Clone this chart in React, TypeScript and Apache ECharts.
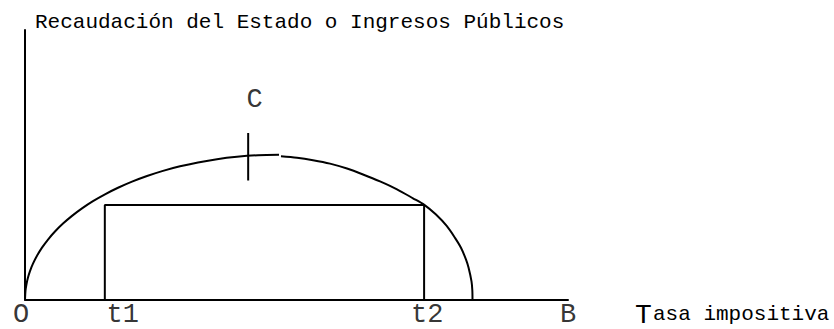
import { useEffect, useRef } from "react";
import * as echarts from "echarts";

// ---- data ----
const yTitle = "Recaudación del Estado o Ingresos Públicos";
const xTitleFirst = "T";
const xTitleRest = "asa impositiva";

const tickLabels = ["O", "t1", "t2", "B"];
const tickValues = [0, 14.7, 73.5, 100];

const leftCurveX = [0, 0.09, 0.28, 0.55, 0.92, 1.47, 2.21, 3.13, 4.24, 5.52, 7.0, 8.66, 10.5, 12.52, 14.73, 17.13, 19.71, 22.47, 25.41, 28.55, 31.86, 35.36, 39.04, 42.91, 46.78];
const leftCurveY = [0, 3.38, 5.83, 8.22, 10.61, 13.36, 16.29, 19.3, 22.31, 25.28, 28.22, 31.08, 33.87, 36.55, 39.08, 41.5, 43.78, 45.87, 47.78, 49.47, 50.9, 52.11, 52.99, 53.58, 53.76];

const rightCurveX = [47.14, 50.09, 53.04, 56.17, 59.3, 62.25, 65.38, 68.51, 71.45, 73.54, 75.69, 77.66, 79.19, 80.29, 81.22, 81.68, 82.23, 82.38, 82.41];
const rightCurveY = [53.21, 52.66, 51.74, 50.46, 48.62, 46.42, 43.85, 40.92, 37.61, 35.16, 31.56, 27.34, 22.94, 19.27, 14.86, 11.93, 6.79, 3.49, 0];

const t1 = 14.7;
const t2 = 73.5;
const rectTop = 35.1;

const peakMarkX = 41.1;
const peakMarkY = [44.2, 61.8];
const peakLabel = "C";
const peakLabelPos = [42.3, 74.2];

// ---- styles ----
const FONT = "'Liberation Mono', 'Courier New', monospace";
const labelOffsets: Record<string, [number, number]> = {
  O: [-4, 15.3],
  t1: [18, 15.3],
  t2: [3.2, 15.3],
  B: [0, 15.3],
};

export default function App() {
  const ref = useRef<HTMLDivElement>(null);

  useEffect(() => {
    if (!ref.current) return;
    const chart = echarts.init(ref.current, undefined, { renderer: "svg" });
    const black = "#000";
    const lineStyle = { color: black, width: 2 };

    const zip = (xs: number[], ys: number[]) => xs.map((x, i) => [x, ys[i]]);

    chart.setOption({
      animation: false,
      backgroundColor: "#fff",
      grid: { left: 25, top: 30, width: 543, height: 272.5 },
      xAxis: {
        type: "value",
        min: 0,
        max: 100,
        axisLine: { show: true, onZero: false, lineStyle: { color: black, width: 2 } },
        axisTick: { show: false },
        axisLabel: { show: false },
        splitLine: { show: false },
        name: `{t|${xTitleFirst}}{r|${xTitleRest}}`,
        nameLocation: "end",
        nameGap: 67,
        nameTextStyle: {
          align: "left",
          verticalAlign: "middle",
          padding: [30.6, 0, 0, 0],
          rich: {
            t: { fontFamily: FONT, fontSize: 28, color: black, width: 18 },
            r: { fontFamily: FONT, fontSize: 21, color: black },
          },
        },
      },
      yAxis: {
        type: "value",
        min: 0,
        max: 100,
        axisLine: { show: true, onZero: false, lineStyle: { color: black, width: 2 } },
        axisTick: { show: false },
        axisLabel: { show: false },
        splitLine: { show: false },
        name: yTitle,
        nameLocation: "end",
        nameGap: 7.3,
        nameTextStyle: {
          fontFamily: FONT,
          fontSize: 21,
          color: black,
          align: "left",
          verticalAlign: "middle",
          padding: [0, 0, 0, 10],
        },
      },
      series: [
        {
          type: "line",
          data: zip(leftCurveX, leftCurveY),
          smooth: 0.3,
          showSymbol: false,
          lineStyle,
        },
        {
          type: "line",
          data: zip(rightCurveX, rightCurveY),
          smooth: 0.3,
          showSymbol: false,
          lineStyle,
        },
        {
          type: "line",
          data: [
            [t1, 0],
            [t1, rectTop],
            [t2, rectTop],
            [t2, 0],
          ],
          showSymbol: false,
          lineStyle,
        },
        {
          type: "line",
          data: [
            [peakMarkX, peakMarkY[0]],
            [peakMarkX, peakMarkY[1]],
          ],
          showSymbol: false,
          lineStyle,
        },
        {
          type: "scatter",
          symbolSize: 0,
          silent: true,
          data: [
            ...tickLabels.map((name, i) => ({
              name,
              value: [tickValues[i], 0],
              label: { offset: labelOffsets[name] },
            })),
            { name: peakLabel, value: peakLabelPos, label: { offset: [0, 0] } },
          ],
          label: {
            show: true,
            position: "inside",
            formatter: (p: any) => p.name,
            fontFamily: FONT,
            fontSize: 27,
            color: black,
          },
        },
      ],
    });

    return () => chart.dispose();
  }, []);

  return (
    <div
      ref={ref}
      style={{ position: "absolute", left: 0, top: 0, width: 834, height: 329 }}
    />
  );
}
